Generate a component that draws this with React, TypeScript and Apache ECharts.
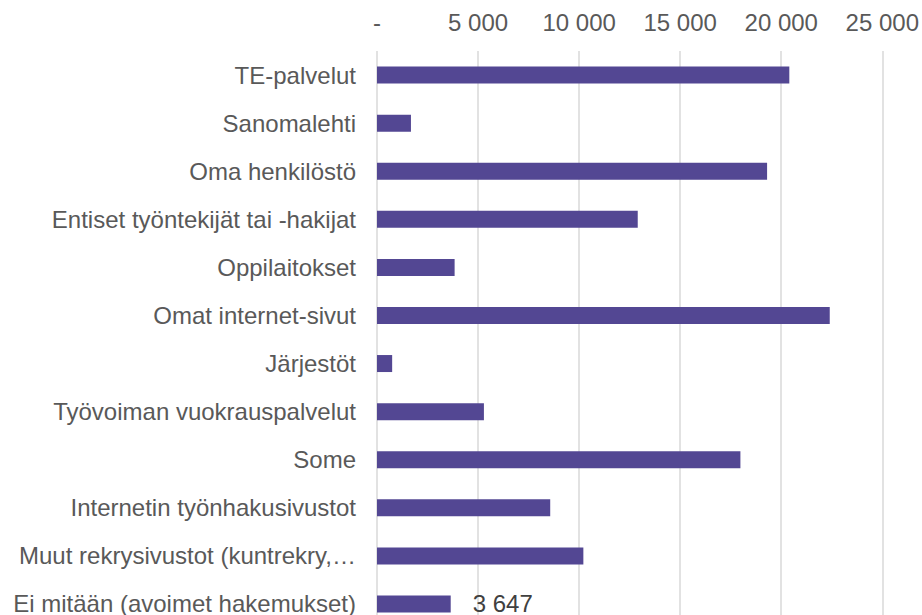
import React, { useEffect, useRef } from "react";
import * as echarts from "echarts";

const categories: string[] = [
  "TE-palvelut",
  "Sanomalehti",
  "Oma henkilöstö",
  "Entiset työntekijät tai -hakijat",
  "Oppilaitokset",
  "Omat internet-sivut",
  "Järjestöt",
  "Työvoiman vuokrauspalvelut",
  "Some",
  "Internetin työnhakusivustot",
  "Muut rekrysivustot (kuntrekry,…",
  "Ei mitään (avoimet hakemukset)",
];

const values: number[] = [
  20400, 1680, 19300, 12900, 3840, 22400, 750, 5290, 17980, 8570, 10210, 3647,
];

const labelledIndex = 11;

const fmt = (v: number): string => {
  if (v === 0) return "-";
  return String(Math.round(v)).replace(/\B(?=(\d{3})+(?!\d))/g, " ");
};

export default function App() {
  const ref = useRef<HTMLDivElement>(null);
  useEffect(() => {
    if (!ref.current) return;
    const chart = echarts.init(ref.current, null, { renderer: "svg" });
    const font = "'Liberation Sans', Arial, sans-serif";
    chart.setOption({
      animation: false,
      backgroundColor: "#ffffff",
      grid: { left: 377, right: 36, top: 51, bottom: 0, containLabel: false },
      xAxis: {
        type: "value",
        position: "top",
        min: 0,
        max: 25000,
        interval: 5000,
        axisLine: { show: false },
        axisTick: { show: false },
        splitLine: { show: true, lineStyle: { color: "#d9d9d9", width: 1.5 } },
        axisLabel: {
          formatter: (v: number) => fmt(v),
          color: "#595959",
          fontSize: 24,
          fontFamily: font,
          margin: 17,
        },
      },
      yAxis: {
        type: "category",
        inverse: true,
        data: categories,
        axisLine: { show: false },
        axisTick: { show: false },
        splitLine: { show: false },
        axisLabel: {
          color: "#595959",
          fontSize: 24,
          fontFamily: font,
          margin: 21,
        },
      },
      series: [
        {
          type: "bar",
          barWidth: 17,
          itemStyle: { color: "#534793" },
          data: values.map((v, i) =>
            i === labelledIndex
              ? {
                  value: v,
                  label: {
                    show: true,
                    position: "right",
                    distance: 22,
                    formatter: (p: any) => fmt(p.value),
                    color: "#404040",
                    fontSize: 24,
                    fontFamily: font,
                  },
                }
              : v
          ),
        },
      ],
    });
    return () => chart.dispose();
  }, []);
  return (
    <div
      style={{
        position: "fixed",
        left: 0,
        top: 0,
        width: 922,
        height: 615,
        overflow: "hidden",
        background: "#fff",
      }}
    >
      <div ref={ref} style={{ width: 922, height: 628 }} />
    </div>
  );
}
